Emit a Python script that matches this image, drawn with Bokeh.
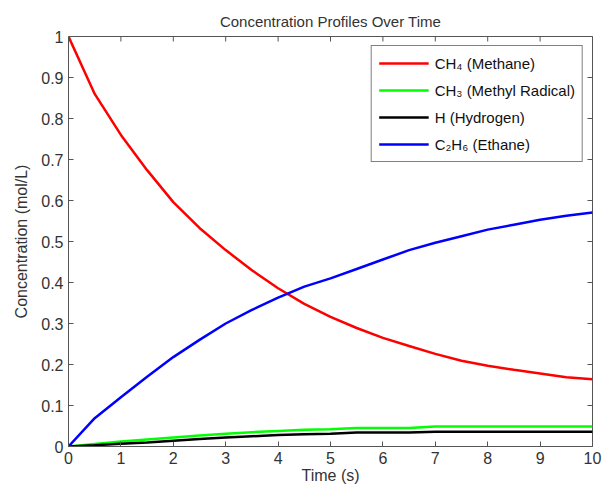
import math
from bokeh.plotting import figure
from bokeh.models import FixedTicker, Legend, LegendItem, PrintfTickFormatter, Range1d
from bokeh.embed import file_html
from bokeh.resources import INLINE

# ---- data ----
time_s = [0, 0.5, 1.0, 1.5, 2.0, 2.5, 3.0, 3.5, 4.0, 4.5, 5.0,
          5.5, 6.0, 6.5, 7.0, 7.5, 8.0, 8.5, 9.0, 9.5, 10.0]
ch4 = [1.0, 0.86, 0.76, 0.674, 0.596, 0.533, 0.479, 0.43, 0.386, 0.348, 0.316,
       0.289, 0.265, 0.245, 0.226, 0.209, 0.197, 0.187, 0.178, 0.169, 0.164]
ch3 = [0.0, 0.006, 0.012, 0.017, 0.022, 0.027, 0.031, 0.035, 0.038, 0.041, 0.042,
       0.045, 0.045, 0.045, 0.049, 0.049, 0.049, 0.049, 0.049, 0.049, 0.049]
h = [0.0, 0.003, 0.007, 0.010, 0.014, 0.018, 0.022, 0.025, 0.028, 0.030, 0.031,
     0.034, 0.034, 0.034, 0.036, 0.036, 0.036, 0.036, 0.036, 0.036, 0.036]
c2h6 = [0.0, 0.069, 0.12, 0.17, 0.218, 0.26, 0.30, 0.333, 0.363, 0.39, 0.41,
        0.433, 0.456, 0.479, 0.497, 0.513, 0.529, 0.541, 0.553, 0.563, 0.571]

series_labels = ["CH\u2084 (Methane)", "CH\u2083 (Methyl Radical)", "H (Hydrogen)", "C\u2082H\u2086 (Ethane)"]
series_colors = ["#ff0000", "#00ff00", "#000000", "#0000ff"]

x_ticks = [0, 1, 2, 3, 4, 5, 6, 7, 8, 9, 10]
y_ticks = [0, 0.1, 0.2, 0.3, 0.4, 0.5, 0.6, 0.7, 0.8, 0.9, 1.0]

title_text = "Concentration Profiles Over Time"
x_label = "Time (s)"
y_label = "Concentration (mol/L)"

FONT = "Liberation Sans"
AXIS_COLOR = "#555555"
TEXT_COLOR = "#333333"

X_MIN, X_MAX = 0, 10
Y_MIN, Y_MAX = 0, 1

p = figure(width=606, height=486, output_backend="svg", toolbar_location=None,
           x_range=Range1d(X_MIN, X_MAX), y_range=Range1d(Y_MIN, Y_MAX),
           min_border_left=68, min_border_right=14, min_border_top=36, min_border_bottom=40)
p.background_fill_color = "white"
p.border_fill_color = "white"
p.outline_line_color = AXIS_COLOR
p.outline_line_width = 1
p.grid.visible = False

p.title.text = title_text
p.title.align = "center"
p.title.text_font = FONT
p.title.text_font_size = "15px"
p.title.text_font_style = "normal"
p.title.text_color = TEXT_COLOR
p.title.standoff = 13

def style_axis(ax, ticks):
    ax.ticker = FixedTicker(ticks=ticks)
    ax.major_tick_in = 5
    ax.major_tick_out = 0
    ax.minor_tick_line_color = None
    ax.axis_line_color = AXIS_COLOR
    ax.major_tick_line_color = AXIS_COLOR
    ax.axis_line_width = 1
    ax.major_label_text_font = FONT
    ax.major_label_text_font_size = "16px"
    ax.major_label_text_color = TEXT_COLOR
    ax.axis_label_text_font = FONT
    ax.axis_label_text_font_size = "16px"
    ax.axis_label_text_font_style = "normal"
    ax.axis_label_text_color = TEXT_COLOR

xa = p.xaxis[0]
style_axis(xa, x_ticks)
xa.axis_label = x_label
xa.major_label_standoff = 5
xa.axis_label_standoff = 0

ya = p.yaxis[0]
style_axis(ya, y_ticks)
ya.axis_label = y_label
ya.formatter = PrintfTickFormatter(format="%g")
ya.major_label_standoff = 5
ya.axis_label_standoff = 8

# inward tick marks on the top and right frame edges (MATLAB box style)
p.ray(x=x_ticks, y=[Y_MAX] * len(x_ticks), length=5, length_units="screen",
      angle=-math.pi / 2, line_color=AXIS_COLOR, line_width=1)
p.ray(x=[X_MAX] * len(y_ticks), y=y_ticks, length=5, length_units="screen",
      angle=math.pi, line_color=AXIS_COLOR, line_width=1)

renderers = []
for ys, col in zip([ch4, ch3, h, c2h6], series_colors):
    r = p.line(time_s, ys, line_color=col, line_width=2.5)
    renderers.append(r)

legend = Legend(items=[LegendItem(label=lab, renderers=[r]) for lab, r in zip(series_labels, renderers)],
                location="top_right")
legend.border_line_color = "#000000"
legend.border_line_width = 1
legend.background_fill_color = "white"
legend.background_fill_alpha = 1
legend.padding = 7
legend.spacing = 7
legend.margin = 9
legend.glyph_width = 50
legend.glyph_height = 20
legend.label_height = 20
legend.label_standoff = 6
legend.label_text_font = FONT
legend.label_text_font_size = "15px"
legend.label_text_color = "#111111"
p.add_layout(legend)

open("out.html", "w").write(file_html(p, INLINE))
